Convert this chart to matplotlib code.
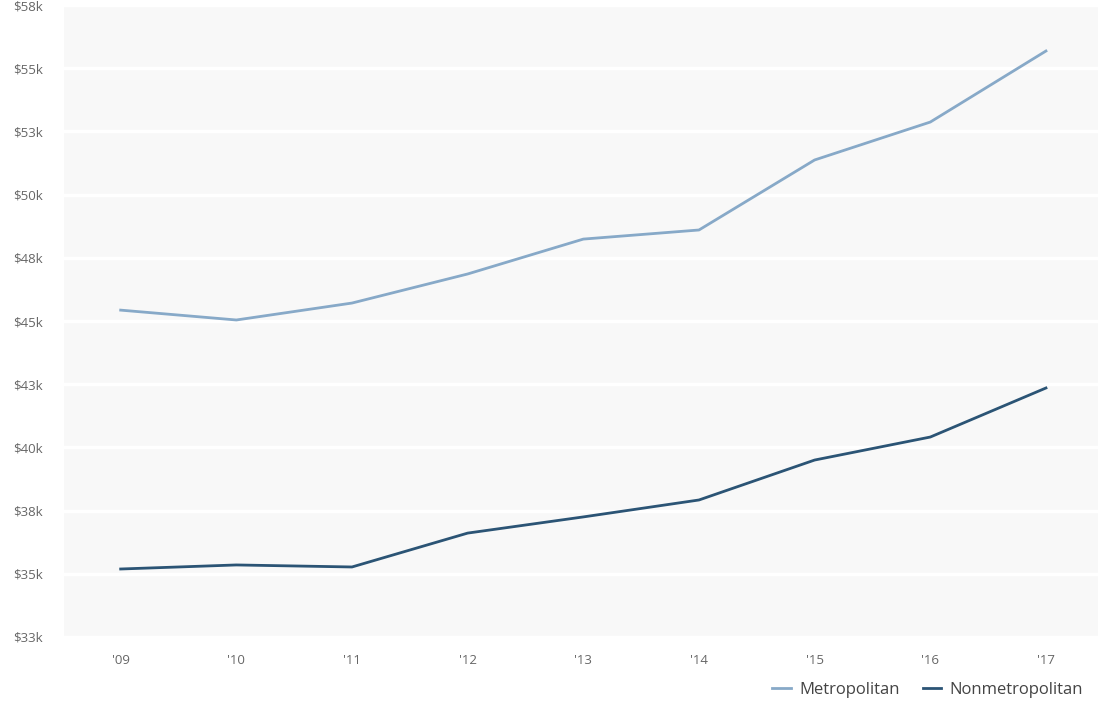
import matplotlib
matplotlib.use('Agg')
import matplotlib.pyplot as plt
from matplotlib.ticker import FixedLocator

# Median household income by year
years = ["'09", "'10", "'11", "'12", "'13", "'14", "'15", "'16", "'17"]
metro = [45430, 45040, 45710, 46860, 48240, 48600, 51370, 52870, 55680]
nonmetro = [35190, 35350, 35270, 36610, 37250, 37920, 39500, 40410, 42350]
y_ticks = [32500, 35000, 37500, 40000, 42500, 45000, 47500, 50000, 52500, 55000, 57500]
y_labels = ['$33k', '$35k', '$38k', '$40k', '$43k', '$45k', '$48k', '$50k', '$53k', '$55k', '$58k']

plt.rcParams['font.family'] = ['Open Sans', 'DejaVu Sans']

fig = plt.figure(figsize=(10.98, 7.02), dpi=100)
ax = fig.add_axes([64 / 1098, 1 - 637 / 702, 1 - 64 / 1098, (637 - 5) / 702])
ax.set_facecolor('#f8f8f8')

x = range(len(years))
ax.plot(x, metro, color='#87a9c8', lw=2.0, label='Metropolitan', zorder=3)
ax.plot(x, nonmetro, color='#2b5475', lw=2.0, label='Nonmetropolitan', zorder=3)

ax.set_xlim(-0.49, 8.45)
ax.set_ylim(32500, 57500)
ax.set_xticks(list(x))
ax.set_xticklabels(years)
ax.yaxis.set_major_locator(FixedLocator(y_ticks))
ax.set_yticklabels(y_labels)

ax.grid(axis='y', color='white', lw=2.5, zorder=1)
ax.grid(axis='x', visible=False)
for s in ax.spines.values():
    s.set_visible(False)
ax.tick_params(axis='both', length=0, labelsize=9.5, colors='#666666')
ax.tick_params(axis='y', pad=15)
ax.tick_params(axis='x', pad=12)

fig.legend(loc='center right', bbox_to_anchor=(1098 / 1098, 1 - 690 / 702), ncol=2,
           frameon=False, fontsize=12, handlelength=1.1, handletextpad=0.5,
           columnspacing=1.4, labelcolor='#444444')

fig.savefig('out.png', dpi=100)
